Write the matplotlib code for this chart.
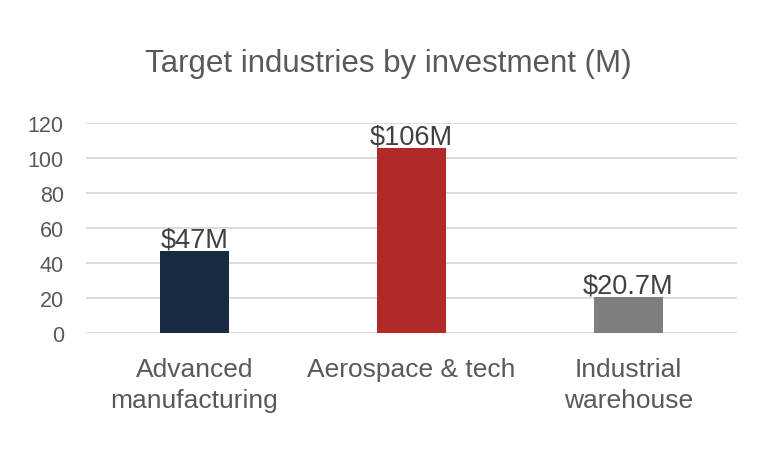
import matplotlib
matplotlib.use("Agg")
import matplotlib.pyplot as plt

categories = ["Advanced\nmanufacturing", "Aerospace & tech", "Industrial\nwarehouse"]
values = [47, 106, 20.7]
value_labels = ["$47M", "$106M", "$20.7M"]
colors = ["#1a2a42", "#b22a27", "#7f7f7f"]
yticks = [0, 20, 40, 60, 80, 100, 120]

INK = "#595959"
GRID = "#d9d9d9"

plt.rcParams["font.family"] = ["Liberation Sans", "DejaVu Sans"]

fig = plt.figure(figsize=(7.77, 4.52), dpi=100)
ax = fig.add_axes([0.1107, 0.261, 0.8378, 0.4646])

xs = range(len(categories))
ax.bar(xs, values, width=0.32, color=colors, zorder=3)
for x, v, lab in zip(xs, values, value_labels):
    ax.text(x, v + 2.3, lab, ha="center", va="baseline", fontsize=19.5,
            color="#404040", zorder=4)

ax.set_xlim(-0.5, len(categories) - 0.5)
ax.set_ylim(0, 120)
ax.set_yticks(yticks)
ax.set_xticks(list(xs))
ax.set_xticklabels(categories, fontsize=19, color=INK, linespacing=1.36)
ax.tick_params(axis="y", labelsize=15.5, labelcolor=INK, length=0, pad=16)
ax.tick_params(axis="x", length=0, pad=17.5)
ax.grid(axis="y", color=GRID, linewidth=1.3, zorder=0)
for s in ax.spines.values():
    s.set_visible(False)

fig.text(0.5, 0.858, "Target industries by investment (M)", ha="center", va="center",
         fontsize=22.5, color=INK)

fig.savefig("out.png", dpi=100)
